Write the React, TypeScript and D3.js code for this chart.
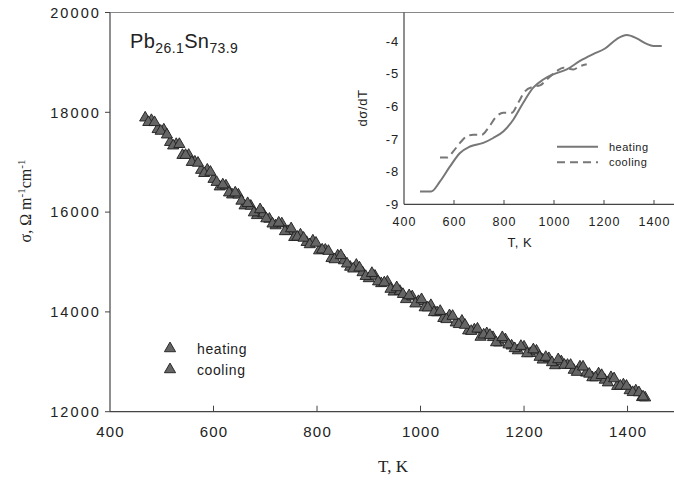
import React from "react";
import * as d3 from "d3";

const heatingT = [468, 480, 492, 504, 516, 528, 540, 552, 564, 576, 588, 600, 612, 624, 636, 648, 660, 672, 684, 696, 708, 720, 732, 744, 756, 768, 780, 792, 804, 816, 828, 840, 852, 864, 876, 888, 900, 912, 924, 936, 948, 960, 972, 984, 996, 1008, 1020, 1032, 1044, 1056, 1068, 1080, 1092, 1104, 1116, 1128, 1140, 1152, 1164, 1176, 1188, 1200, 1212, 1224, 1236, 1248, 1260, 1272, 1284, 1296, 1308, 1320, 1332, 1344, 1356, 1368, 1380, 1392, 1404, 1416, 1428, 1434];
const heatingSigma = [17890, 17840, 17658, 17650, 17400, 17360, 17140, 17142, 17007, 16841, 16846, 16660, 16509, 16528, 16348, 16347, 16128, 16122, 15935, 15969, 15862, 15730, 15768, 15616, 15495, 15546, 15396, 15426, 15228, 15241, 15074, 15126, 15028, 14899, 14939, 14790, 14670, 14720, 14571, 14601, 14402, 14416, 14251, 14306, 14212, 14087, 14132, 13987, 13872, 13928, 13783, 13818, 13623, 13644, 13496, 13568, 13490, 13382, 13446, 13321, 13225, 13300, 13170, 13219, 13039, 13068, 12926, 13005, 12934, 12834, 12901, 12778, 12685, 12762, 12636, 12688, 12510, 12542, 12425, 12421, 12287, 12280];

const coolingT = [474, 486, 498, 510, 522, 534, 546, 558, 570, 582, 594, 606, 618, 630, 642, 654, 666, 678, 690, 702, 714, 726, 738, 750, 762, 774, 786, 798, 810, 822, 834, 846, 858, 870, 882, 894, 906, 918, 930, 942, 954, 966, 978, 990, 1002, 1014, 1026, 1038, 1050, 1062, 1074, 1086, 1098, 1110, 1122, 1134, 1146, 1158, 1170, 1182, 1194, 1206, 1218, 1230, 1242, 1254, 1266, 1278, 1290, 1302, 1314, 1326, 1338, 1350, 1362, 1374, 1386, 1398, 1410, 1422, 1430];
const coolingSigma = [17800, 17798, 17624, 17550, 17330, 17360, 17141, 17000, 16984, 16778, 16803, 16600, 16549, 16388, 16388, 16223, 16175, 15989, 16052, 15870, 15766, 15784, 15612, 15670, 15501, 15481, 15351, 15382, 15245, 15218, 15050, 15132, 14964, 14864, 14885, 14715, 14775, 14606, 14586, 14457, 14489, 14354, 14329, 14164, 14250, 14085, 13990, 14015, 13850, 13916, 13751, 13736, 13614, 13660, 13542, 13534, 13386, 13489, 13344, 13268, 13313, 13165, 13245, 13094, 13094, 12987, 13046, 12935, 12934, 12793, 12900, 12757, 12684, 12730, 12582, 12664, 12516, 12514, 12388, 12384, 12300];

const dHeatT = [464, 508, 544, 584, 624, 664, 717, 757, 797, 837, 877, 917, 957, 997, 1051, 1104, 1157, 1204, 1251, 1291, 1331, 1371, 1397, 1431];
const dHeatV = [-8.61, -8.61, -8.3, -7.84, -7.43, -7.23, -7.12, -6.97, -6.77, -6.41, -5.89, -5.43, -5.18, -5.02, -4.87, -4.61, -4.4, -4.23, -3.94, -3.82, -3.92, -4.09, -4.15, -4.15];
const dCoolT = [544, 573, 597, 624, 651, 677, 711, 737, 771, 797, 831, 857, 884, 917, 944, 971, 1011, 1037, 1077, 1104, 1131];
const dCoolV = [-7.57, -7.57, -7.38, -7.12, -6.92, -6.87, -6.87, -6.66, -6.3, -6.2, -6.2, -5.89, -5.54, -5.4, -5.36, -5.18, -4.92, -4.82, -4.87, -4.77, -4.71];

const mainXTicks = [400, 600, 800, 1000, 1200, 1400];
const mainYTicks = [12000, 14000, 16000, 18000, 20000];
const insetXTicks = [400, 600, 800, 1000, 1200, 1400];
const insetYTicks = [-9, -8, -7, -6, -5, -4];

const W = 674;
const H = 482;
const SANS = "Arial, 'Liberation Sans', Helvetica, sans-serif";
const SERIF = "'Times New Roman', 'Liberation Serif', serif";

export default function App() {
  const x = d3.scaleLinear().domain([400, 1500]).range([110, 679.3]);
  const y = d3.scaleLinear().domain([12000, 20000]).range([411.7, 12.5]);
  const xi = d3.scaleLinear().domain([400, 1500]).range([404, 679]);
  const yi = d3.scaleLinear().domain([-9, -4]).range([204.3, 41]);

  const tri = d3.symbol().type(d3.symbolTriangle).size(54)();

  const heating = heatingT.map((t, i) => [t, heatingSigma[i]]);
  const cooling = coolingT.map((t, i) => [t, coolingSigma[i]]);
  const dHeat = dHeatT.map((t, i) => [t, dHeatV[i]] as [number, number]);
  const dCool = dCoolT.map((t, i) => [t, dCoolV[i]] as [number, number]);

  const line = d3
    .line<[number, number]>()
    .x((d) => xi(d[0]))
    .y((d) => yi(d[1]))
    .curve(d3.curveMonotoneX);

  const axisColor = "#444";
  const textColor = "#222";
  const mFill = "#656565";
  const mStroke = "#1e1e1e";

  return (
    <svg width={W} height={H} style={{ position: "absolute", left: 0, top: 0, background: "#fff" }}>
      {/* main frame */}
      <line x1={110} x2={W} y1={y(20000)} y2={y(20000)} stroke="#888" strokeWidth={1.2} />
      <line x1={110} x2={110} y1={y(20000)} y2={y(12000)} stroke={axisColor} strokeWidth={1.2} />
      <line x1={110} x2={W} y1={y(12000)} y2={y(12000)} stroke={axisColor} strokeWidth={1.2} />

      {mainYTicks.map((t) => (
        <g key={"my" + t}>
          <line x1={105} x2={110} y1={y(t)} y2={y(t)} stroke={axisColor} strokeWidth={1} />
          <text x={101} y={y(t)} dy="0.36em" textAnchor="end" fontFamily={SANS} fontSize={14.5} letterSpacing={2.1} fill={textColor}>
            {t}
          </text>
        </g>
      ))}
      {mainXTicks.map((t) => (
        <g key={"mx" + t}>
          {t > 400 && <line x1={x(t)} x2={x(t)} y1={y(12000)} y2={y(12000) - 6} stroke={axisColor} strokeWidth={1} />}
          <text x={x(t) + 0.6} y={437} textAnchor="middle" fontFamily={SANS} fontSize={15} letterSpacing={1.2} fill={textColor}>
            {t}
          </text>
        </g>
      ))}

      <text x={393} y={472} textAnchor="middle" fontFamily={SERIF} fontSize={17} fill={textColor}>
        T, K
      </text>
      <text
        transform="translate(31,201) rotate(-90)"
        textAnchor="middle"
        fontFamily={SERIF}
        fontSize={16}
        fill={textColor}
      >
        σ, Ω m<tspan dy={-6} fontSize={11}>-1</tspan>
        <tspan dy={6}>cm</tspan>
        <tspan dy={-6} fontSize={11}>-1</tspan>
      </text>

      {/* title */}
      <text x={130} y={48} fontFamily={SANS} fontSize={20} letterSpacing={0.4} fill={textColor}>
        Pb<tspan dy={5} fontSize={14}>26.1</tspan>
        <tspan dy={-5}>Sn</tspan>
        <tspan dy={5} fontSize={14}>73.9</tspan>
      </text>

      {/* scatter */}
      {heating.map((d, i) => (
        <path key={"h" + i} d={tri!} transform={`translate(${x(d[0])},${y(d[1])})`} fill={mFill} stroke={mStroke} strokeWidth={0.9} />
      ))}
      {cooling.map((d, i) => (
        <path key={"c" + i} d={tri!} transform={`translate(${x(d[0])},${y(d[1])})`} fill={mFill} stroke={mStroke} strokeWidth={0.9} />
      ))}

      {/* main legend */}
      <path d={tri!} transform="translate(170,348.5)" fill={mFill} stroke={mStroke} strokeWidth={0.9} />
      <path d={tri!} transform="translate(170,369.5)" fill={mFill} stroke={mStroke} strokeWidth={0.9} />
      <text x={197} y={354} fontFamily={SANS} fontSize={14} letterSpacing={0.6} fill={textColor}>heating</text>
      <text x={197} y={375} fontFamily={SANS} fontSize={14} letterSpacing={0.6} fill={textColor}>cooling</text>

      {/* inset */}
      <rect x={404} y={12.5} width={W - 404} height={204.3 - 12.5} fill="#fff" />
      <line x1={404} x2={W} y1={12.5} y2={12.5} stroke="#888" strokeWidth={1.2} />
      <line x1={404} x2={404} y1={12.5} y2={204.3} stroke={axisColor} strokeWidth={1.2} />
      <line x1={404} x2={W} y1={204.3} y2={204.3} stroke={axisColor} strokeWidth={1.2} />
      {insetXTicks.map((t) => (
        <g key={"ix" + t}>
          {t > 400 && <line x1={xi(t)} x2={xi(t)} y1={204.3} y2={200} stroke={axisColor} strokeWidth={1} />}
          <text x={xi(t) + 0.5} y={226} textAnchor="middle" fontFamily={SANS} fontSize={12.5} letterSpacing={1} fill={textColor}>
            {t}
          </text>
        </g>
      ))}
      {insetYTicks.map((t) => (
        <text key={"iy" + t} x={399} y={yi(t)} dy="0.36em" textAnchor="end" fontFamily={SANS} fontSize={13} letterSpacing={0.8} fill={textColor}>
          {t}
        </text>
      ))}
      <text x={520} y={247} textAnchor="middle" fontFamily={SANS} fontSize={13} letterSpacing={0.6} fill={textColor}>
        T, K
      </text>
      <text transform="translate(367,108) rotate(-90)" textAnchor="middle" fontFamily={SANS} fontSize={13} letterSpacing={0.6} fill={textColor}>
        dσ/dT
      </text>

      <path d={line(dHeat)!} fill="none" stroke="#777" strokeWidth={2} />
      <path d={line(dCool)!} fill="none" stroke="#777" strokeWidth={2} strokeDasharray="8,5" />

      <line x1={557} x2={598} y1={146.7} y2={146.7} stroke="#777" strokeWidth={2} />
      <line x1={557} x2={598} y1={162.3} y2={162.3} stroke="#777" strokeWidth={2} strokeDasharray="8,5" />
      <text x={609} y={150.5} fontFamily={SANS} fontSize={11} letterSpacing={0.5} fill={textColor}>heating</text>
      <text x={609} y={166} fontFamily={SANS} fontSize={11} letterSpacing={0.5} fill={textColor}>cooling</text>
    </svg>
  );
}
